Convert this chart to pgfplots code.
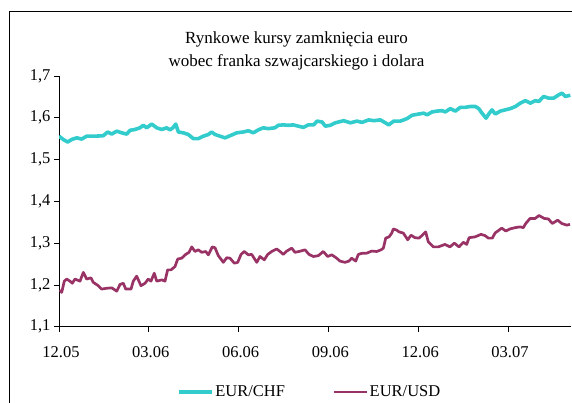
\documentclass[border=0pt]{standalone}
\usepackage{pgfplots}
\pgfplotsset{compat=1.18}
\usepackage{fontspec}
\setmainfont{Liberation Serif}
\definecolor{chf}{RGB}{51,204,204}
\definecolor{usd}{RGB}{153,51,102}
\begin{document}
\begin{tikzpicture}
\useasboundingbox (0pt,0pt) rectangle (572pt,403pt);
\clip (0pt,0pt) rectangle (572pt,403pt);
\draw[black, line width=1pt] (9pt,-10pt) -- (9pt,391.3pt) -- (600pt,391.3pt);
\node[anchor=base, font=\fontsize{17}{20}\selectfont, inner sep=0pt] at (296.5pt,359.7pt) {Rynkowe kursy zamknięcia euro};
\node[anchor=base, font=\fontsize{17}{20}\selectfont, inner sep=0pt] at (296.5pt,336.3pt) {wobec franka szwajcarskiego i dolara};
\begin{axis}[
  at={(59pt,76.3pt)}, anchor=south west,
  scale only axis, width=511.9pt, height=250.7pt,
  xmin=0, xmax=5.70, ymin=1.1, ymax=1.7,
  axis lines=left, axis line style={-, line width=0.8pt, black},
  tick align=outside, major tick length=5pt,
  tick style={black, line width=0.8pt},
  xtick={0,1,2,3,4,5},
  xticklabels={12.05,03.06,06.06,09.06,12.06,03.07},
  ytick={1.1,1.2,1.3,1.4,1.5,1.6,1.7},
  xtick pos=left, ytick pos=left,
  minor tick num=0,
  ticklabel style={font=\fontsize{16.5}{19}\selectfont},
  xticklabel style={yshift=-11pt, xshift=2pt},
  yticklabel style={/pgf/number format/.cd, fixed, fixed zerofill, precision=1, use comma, assume math mode=true},
  legend style={at={(0.2305,-0.2605)}, anchor=west, draw=none, fill=none, inner sep=0pt,
    font=\fontsize{16.5}{19}\selectfont, legend columns=2,
    nodes={inner xsep=1.5pt, inner ysep=0pt},
    /tikz/every even column/.append style={column sep=46pt}},
  legend image code/.code={\draw[#1] (0pt,0pt) -- (33pt,0pt);},
  legend cell align=left,
]
\addplot[chf, line width=3.6pt, line join=round] coordinates {
(0,1.556)(0.048,1.548)(0.097,1.542)(0.141,1.548)(0.197,1.552)(0.253,1.549)(0.308,1.556)(0.401,1.556)(0.493,1.557)(0.542,1.566)(0.587,1.561)(0.643,1.568)(0.698,1.564)(0.754,1.561)(0.791,1.570)(0.846,1.572)(0.902,1.576)(0.939,1.582)(0.977,1.576)(1.032,1.585)(1.088,1.576)(1.144,1.572)(1.199,1.576)(1.236,1.571)(1.273,1.577)(1.300,1.585)(1.329,1.566)(1.384,1.564)(1.440,1.560)(1.496,1.550)(1.551,1.550)(1.607,1.556)(1.663,1.560)(1.700,1.566)(1.737,1.560)(1.793,1.556)(1.849,1.552)(1.904,1.557)(1.979,1.564)(2.052,1.566)(2.108,1.569)(2.164,1.564)(2.219,1.571)(2.275,1.576)(2.331,1.574)(2.405,1.576)(2.442,1.582)(2.498,1.583)(2.553,1.582)(2.609,1.583)(2.665,1.580)(2.720,1.577)(2.776,1.583)(2.836,1.583)(2.873,1.592)(2.929,1.590)(2.965,1.580)(3.021,1.582)(3.077,1.588)(3.170,1.593)(3.244,1.588)(3.318,1.592)(3.374,1.589)(3.449,1.595)(3.504,1.593)(3.578,1.595)(3.634,1.588)(3.671,1.583)(3.727,1.592)(3.801,1.592)(3.875,1.598)(3.931,1.606)(4.006,1.609)(4.061,1.611)(4.098,1.607)(4.154,1.614)(4.209,1.616)(4.265,1.617)(4.302,1.614)(4.357,1.622)(4.413,1.616)(4.469,1.625)(4.524,1.625)(4.580,1.627)(4.636,1.627)(4.674,1.622)(4.710,1.611)(4.755,1.599)(4.785,1.609)(4.822,1.619)(4.858,1.609)(4.914,1.616)(4.970,1.619)(5.026,1.622)(5.082,1.627)(5.137,1.635)(5.193,1.641)(5.249,1.635)(5.304,1.641)(5.342,1.639)(5.397,1.651)(5.453,1.647)(5.509,1.647)(5.565,1.655)(5.601,1.659)(5.638,1.651)(5.694,1.654)
};
\addlegendentry{EUR/CHF}
\addplot[usd, line width=2.7pt, line join=round] coordinates {
(0.011,1.188)(0.030,1.182)(0.059,1.209)(0.086,1.214)(0.122,1.209)(0.148,1.204)(0.178,1.214)(0.234,1.209)(0.271,1.230)(0.308,1.214)(0.356,1.217)(0.382,1.206)(0.438,1.198)(0.475,1.190)(0.531,1.192)(0.587,1.193)(0.643,1.185)(0.679,1.201)(0.716,1.204)(0.743,1.190)(0.802,1.190)(0.827,1.209)(0.865,1.221)(0.913,1.198)(0.958,1.204)(0.994,1.214)(1.024,1.209)(1.061,1.228)(1.088,1.209)(1.144,1.212)(1.180,1.209)(1.210,1.236)(1.247,1.236)(1.292,1.244)(1.322,1.262)(1.366,1.264)(1.411,1.273)(1.448,1.278)(1.478,1.291)(1.514,1.280)(1.551,1.284)(1.589,1.278)(1.634,1.280)(1.663,1.272)(1.707,1.291)(1.737,1.289)(1.774,1.270)(1.830,1.254)(1.867,1.265)(1.904,1.264)(1.952,1.252)(1.990,1.254)(2.027,1.273)(2.063,1.280)(2.108,1.272)(2.146,1.273)(2.202,1.254)(2.238,1.268)(2.286,1.260)(2.324,1.273)(2.369,1.280)(2.424,1.286)(2.461,1.280)(2.498,1.273)(2.536,1.281)(2.591,1.288)(2.628,1.278)(2.673,1.280)(2.739,1.284)(2.784,1.273)(2.832,1.268)(2.888,1.270)(2.943,1.280)(2.992,1.268)(3.037,1.272)(3.092,1.264)(3.129,1.257)(3.185,1.254)(3.229,1.257)(3.259,1.264)(3.304,1.257)(3.333,1.273)(3.378,1.276)(3.426,1.276)(3.482,1.281)(3.538,1.280)(3.586,1.284)(3.612,1.288)(3.638,1.312)(3.675,1.315)(3.705,1.324)(3.723,1.334)(3.761,1.331)(3.786,1.327)(3.834,1.324)(3.883,1.308)(3.920,1.319)(3.964,1.313)(4.009,1.312)(4.046,1.319)(4.083,1.327)(4.112,1.303)(4.168,1.291)(4.224,1.291)(4.298,1.297)(4.354,1.291)(4.402,1.300)(4.454,1.291)(4.502,1.302)(4.540,1.297)(4.566,1.313)(4.633,1.315)(4.699,1.321)(4.744,1.318)(4.781,1.312)(4.825,1.312)(4.855,1.324)(4.930,1.336)(4.974,1.329)(5.022,1.334)(5.078,1.337)(5.134,1.339)(5.170,1.337)(5.197,1.347)(5.245,1.359)(5.301,1.359)(5.345,1.366)(5.404,1.359)(5.449,1.358)(5.493,1.347)(5.553,1.355)(5.598,1.347)(5.654,1.343)(5.690,1.345)
};
\addlegendentry{EUR/USD}
\end{axis}
\end{tikzpicture}
\end{document}
